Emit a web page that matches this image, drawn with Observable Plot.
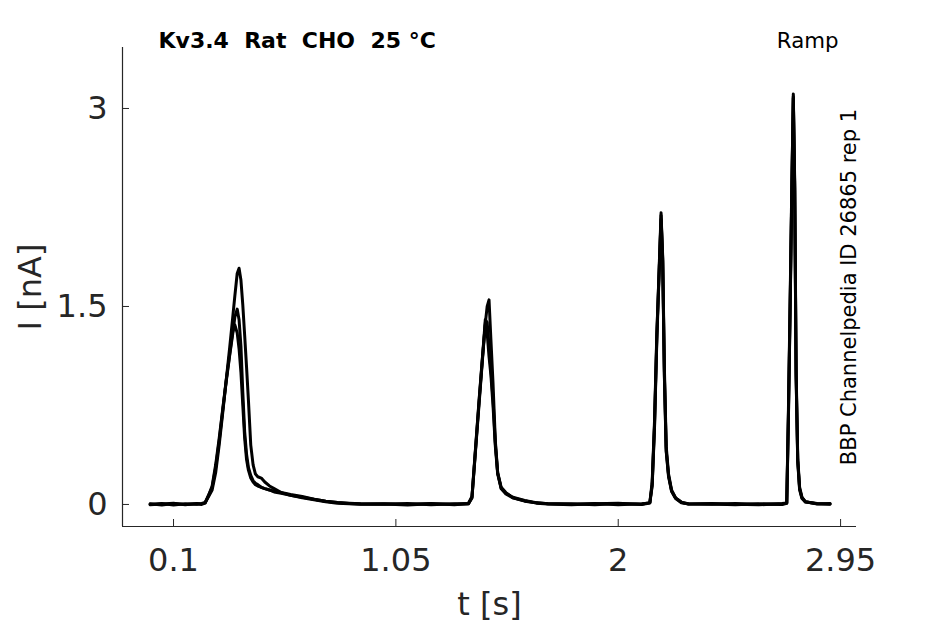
<!DOCTYPE html>
<html><head><meta charset="utf-8">
<script src="https://cdn.jsdelivr.net/npm/d3@7"></script>
<script src="https://cdn.jsdelivr.net/npm/@observablehq/plot@0.6"></script>
<style>
html,body{margin:0;padding:0;background:#fff;}
#chart{width:945px;height:624px;}
</style></head><body><div id="chart"></div>
<script>
// ---- data ----
const titleText = "Kv3.4  Rat  CHO  25 °C";
const protocolText = "Ramp";
const sourceText = "BBP Channelpedia ID 26865 rep 1";
const xLabel = "t [s]";
const yLabel = "I [nA]";
const xTicks = [0.1, 1.05, 2, 2.95];
const xTickLabels = ["0.1", "1.05", "2", "2.95"];
const yTicks = [0, 1.5, 3];
const yTickLabels = ["0", "1.5", "3"];
const xDomain = [-0.118, 3.018];
const yDomain = [-0.167, 3.462];

// time (s), shared by all sweeps
const timeS = [
  0, 0.05, 0.1, 0.15, 0.2, 0.22, 0.235,
  0.25, 0.265, 0.28, 0.295, 0.31, 0.325, 0.34, 0.352, 0.362, 0.372,
  0.38, 0.388, 0.396, 0.404, 0.412, 0.42, 0.43, 0.44, 0.45, 0.46,
  0.475, 0.49, 0.51, 0.53, 0.56, 0.6, 0.65, 0.7, 0.75, 0.8,
  0.85, 0.9,
  1.0, 1.1, 1.2, 1.3, 1.36,
  1.375, 1.39, 1.405, 1.42, 1.432, 1.44, 1.448, 1.456, 1.465, 1.475,
  1.485, 1.5, 1.52, 1.55, 1.6, 1.65, 1.7,
  1.8, 1.9, 2.0, 2.1, 2.135,
  2.145, 2.155, 2.165, 2.175, 2.183, 2.19, 2.197, 2.205, 2.215, 2.228,
  2.245, 2.27, 2.3,
  2.4, 2.5, 2.6, 2.7, 2.72,
  2.727, 2.734, 2.741, 2.748, 2.754, 2.76, 2.767, 2.775, 2.785, 2.8,
  2.85, 2.905
];
// current (nA), sweep 1
const sweep1 = [
  0.005, -0.005, 0.008, 0.000, 0.006, 0.004, 0.012,
  0.06, 0.11, 0.24, 0.45, 0.69, 0.94, 1.19, 1.40, 1.58, 1.75,
  1.79, 1.70, 1.51, 1.28, 1.04, 0.79, 0.45, 0.30, 0.23, 0.21,
  0.20, 0.17, 0.14, 0.12, 0.09, 0.075, 0.06, 0.04, 0.025, 0.015,
  0.01, 0.006,
  0.004, -0.004, 0.006, 0.002, 0.008,
  0.05, 0.40, 0.75, 1.10, 1.37, 1.50, 1.55, 1.25, 0.92, 0.48,
  0.24, 0.12, 0.08, 0.05, 0.025, 0.012, 0.006,
  0.002, 0.007, -0.003, 0.005, 0.012,
  0.15, 0.60, 1.28, 1.80, 2.21, 1.85, 1.00, 0.41, 0.22, 0.10,
  0.05, 0.015, 0.006,
  0.004, -0.002, 0.006, 0.003, 0.010,
  0.66, 1.45, 2.31, 3.11, 2.40, 0.98, 0.33, 0.12, 0.05, 0.02,
  0.006, 0.004
];
// current (nA), sweep 2
const sweep2 = [
  0.002, 0.007, -0.004, 0.005, 0.001, 0.008, 0.015,
  0.07, 0.13, 0.28, 0.48, 0.71, 0.93, 1.13, 1.28, 1.42, 1.48,
  1.40, 1.20, 0.85, 0.55, 0.38, 0.28, 0.22, 0.18, 0.16, 0.15,
  0.13, 0.12, 0.11, 0.10, 0.09, 0.07, 0.055, 0.04, 0.025, 0.015,
  0.008, 0.004,
  0.006, 0.001, 0.008, -0.003, 0.007,
  0.06, 0.42, 0.78, 1.12, 1.36, 1.30, 1.12, 0.98, 0.75, 0.44,
  0.23, 0.12, 0.085, 0.055, 0.03, 0.014, 0.005,
  0.006, -0.002, 0.008, 0.001, 0.014,
  0.17, 0.63, 1.30, 1.78, 2.16, 1.88, 1.05, 0.44, 0.23, 0.11,
  0.05, 0.018, 0.004,
  0.007, 0.001, -0.003, 0.008, 0.012,
  0.70, 1.50, 2.35, 3.08, 2.45, 1.02, 0.35, 0.13, 0.055, 0.02,
  0.004, 0.007
];
// current (nA), sweep 3
const sweep3 = [
  -0.003, 0.004, 0.009, -0.002, 0.007, 0.000, 0.010,
  0.07, 0.14, 0.30, 0.50, 0.72, 0.94, 1.14, 1.30, 1.36, 1.30,
  1.18, 1.00, 0.75, 0.50, 0.34, 0.26, 0.20, 0.17, 0.15, 0.14,
  0.13, 0.12, 0.11, 0.095, 0.085, 0.07, 0.05, 0.035, 0.02, 0.01,
  0.006, 0.002,
  0.001, 0.007, -0.002, 0.006, 0.004,
  0.05, 0.41, 0.77, 1.11, 1.40, 1.38, 1.20, 1.02, 0.80, 0.46,
  0.24, 0.13, 0.09, 0.05, 0.028, 0.01, 0.003,
  -0.002, 0.005, 0.009, 0.000, 0.01,
  0.14, 0.58, 1.25, 1.76, 2.19, 1.84, 0.98, 0.40, 0.21, 0.10,
  0.045, 0.012, 0.003,
  0.002, 0.008, 0.001, -0.001, 0.009,
  0.64, 1.42, 2.28, 3.09, 2.38, 0.96, 0.32, 0.11, 0.045, 0.018,
  0.008, 0.002
];

// ---- build table ----
const sweeps = [["s1", sweep1], ["s2", sweep2], ["s3", sweep3]];
const rows = [];
for (const [name, vals] of sweeps) {
  const n = Math.min(vals.length, timeS.length);
  for (let i = 0; i < n; i++) rows.push({t: timeS[i], I: vals[i], sweep: name});
}
const xFmt = new Map(xTicks.map((d, i) => [d, xTickLabels[i]]));
const yFmt = new Map(yTicks.map((d, i) => [d, yTickLabels[i]]));
const axisColor = "#262626";

const chart = Plot.plot({
  width: 945, height: 624,
  marginLeft: 122, marginRight: 89, marginTop: 47, marginBottom: 98,
  style: {fontFamily: "DejaVu Sans", background: "#fff", color: axisColor, overflow: "visible"},
  x: {domain: xDomain},
  y: {domain: yDomain},
  marks: [
    Plot.ruleY([yDomain[0]], {stroke: axisColor, strokeWidth: 1.2}),
    Plot.ruleX([xDomain[0]], {stroke: axisColor, strokeWidth: 1.2}),
    Plot.axisX(xTicks, {tickSize: 0, tickPadding: 22, fontSize: 32, tickFormat: d => xFmt.get(d), label: null}),
    Plot.axisX(xTicks, {tickSize: 7, dy: -7, text: null, label: null, stroke: axisColor}),
    Plot.axisY(yTicks, {tickSize: 0, tickPadding: 15, fontSize: 32, tickFormat: d => yFmt.get(d), label: null}),
    Plot.axisY(yTicks, {tickSize: 7, dx: 7, text: null, label: null, stroke: axisColor}),
    Plot.line(rows, {x: "t", y: "I", z: "sweep", stroke: "#000", strokeWidth: 3, strokeLinejoin: "round"}),
    Plot.text([xLabel], {frameAnchor: "bottom", dy: 88, textAnchor: "middle", lineAnchor: "bottom", fontSize: 32, fill: axisColor}),
    Plot.text([yLabel], {frameAnchor: "left", dx: -92, textAnchor: "middle", rotate: -90, fontSize: 32, fill: axisColor}),
    Plot.text([titleText], {frameAnchor: "top-left", dx: 36, dy: 0, textAnchor: "start", lineAnchor: "bottom", fontSize: 22, fontWeight: "bold", fill: "#000"}),
    Plot.text([protocolText], {frameAnchor: "top-right", dx: -18, dy: 0, textAnchor: "end", lineAnchor: "bottom", fontSize: 21.3, fill: "#000"}),
    Plot.text([sourceText], {frameAnchor: "right", dx: -7, textAnchor: "middle", rotate: -90, fontSize: 21, fill: "#000"})
  ]
});
document.getElementById("chart").appendChild(chart);
</script>
</body></html>
